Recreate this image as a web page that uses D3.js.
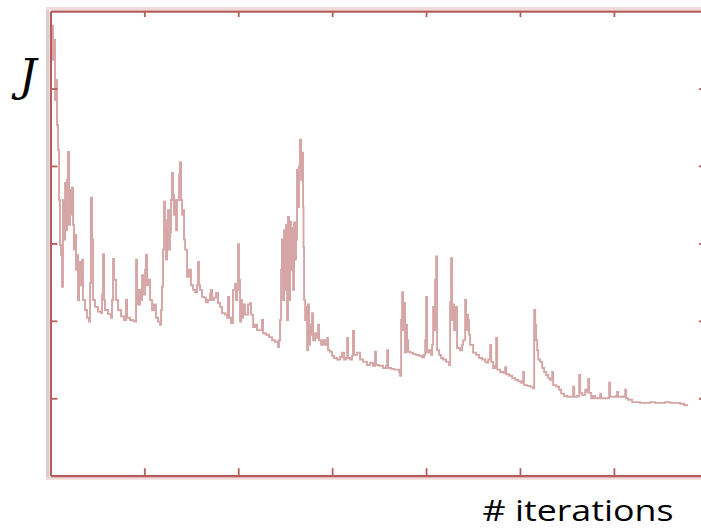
<!DOCTYPE html>
<html>
<head>
<meta charset="utf-8">
<script src="https://cdn.jsdelivr.net/npm/d3@7"></script>
<style>
  html, body { margin: 0; padding: 0; background: #fff; }
  svg { display: block; }
</style>
</head>
<body>
<svg id="chart" width="701" height="529"></svg>
<script>
// Cost J recorded during optimisation (iteration, J)
const iterations = [
  0, 6, 17, 28, 38, 49, 60, 70, 81, 92, 102, 113, 124, 134, 145, 156, 166, 177, 187, 198,
  209, 219, 230, 241, 251, 262, 273, 283, 294, 305, 315, 326, 337, 347, 368, 390, 411, 422, 432, 443,
  454, 475, 507, 539, 550, 560, 571, 581, 613, 645, 656, 667, 677, 699, 720, 752, 784, 805, 816, 848,
  880, 901, 912, 922, 933, 954, 965, 976, 986, 1008, 1018, 1029, 1039, 1061, 1082, 1103, 1124, 1146, 1167, 1178,
  1188, 1199, 1210, 1220, 1231, 1242, 1252, 1263, 1274, 1284, 1295, 1306, 1316, 1327, 1338, 1348, 1370, 1380, 1391, 1402,
  1412, 1423, 1434, 1455, 1476, 1497, 1519, 1540, 1561, 1572, 1582, 1593, 1614, 1636, 1657, 1678, 1700, 1710, 1721, 1742,
  1764, 1785, 1806, 1827, 1859, 1881, 1891, 1902, 1923, 1944, 1966, 1976, 1987, 1998, 2008, 2019, 2030, 2040, 2051, 2072,
  2104, 2126, 2136, 2158, 2179, 2200, 2232, 2253, 2264, 2296, 2328, 2360, 2392, 2424, 2434, 2445, 2456, 2466, 2477, 2488,
  2498, 2509, 2520, 2530, 2541, 2552, 2562, 2573, 2584, 2594, 2605, 2616, 2626, 2637, 2647, 2658, 2669, 2679, 2690, 2695,
  2701, 2712, 2722, 2733, 2743, 2754, 2765, 2775, 2786, 2797, 2818, 2839, 2850, 2861, 2882, 2903, 2924, 2946, 2956, 2978,
  2999, 3020, 3052, 3084, 3105, 3127, 3148, 3159, 3169, 3190, 3212, 3222, 3233, 3265, 3297, 3329, 3371, 3403, 3435, 3457,
  3467, 3499, 3542, 3574, 3585, 3595, 3627, 3659, 3691, 3713, 3723, 3734, 3745, 3755, 3766, 3776, 3787, 3798, 3808, 3830,
  3862, 3894, 3926, 3958, 3979, 3990, 4000, 4011, 4032, 4054, 4064, 4075, 4086, 4096, 4107, 4117, 4139, 4160, 4181, 4213,
  4245, 4256, 4266, 4277, 4288, 4298, 4309, 4330, 4362, 4384, 4394, 4416, 4426, 4437, 4447, 4458, 4469, 4501, 4533, 4565,
  4597, 4629, 4650, 4661, 4682, 4693, 4714, 4735, 4746, 4757, 4789, 4821, 4842, 4853, 4885, 4917, 4949, 4981, 5013, 5034,
  5044, 5076, 5108, 5140, 5151, 5162, 5172, 5183, 5194, 5215, 5236, 5257, 5279, 5300, 5321, 5343, 5353, 5385, 5417, 5439,
  5470, 5502, 5534, 5566, 5577, 5609, 5630, 5641, 5662, 5694, 5715, 5726, 5736, 5758, 5779, 5800, 5832, 5854, 5864, 5896,
  5928, 5949, 5960, 5992, 6024, 6034, 6045, 6077, 6109, 6120, 6130, 6152, 6194, 6237, 6279, 6332, 6386, 6439, 6492, 6545,
  6599, 6652, 6705, 6748, 6790
];

const costJ = [
  5.86, 5.63, 5.81, 5.37, 5.63, 4.85, 5.11, 4.53, 4.21, 3.56, 2.98, 2.85, 2.44, 3.56, 3.05, 3.78, 3.17, 3.82, 4.18, 3.24,
  3.69, 3.37, 3.72, 3.24, 2.92, 3.11, 2.66, 2.85, 2.27, 2.66, 2.76, 2.46, 2.79, 2.27, 2.14, 2.04, 1.99, 2.49, 3.59, 3.05,
  2.27, 2.18, 2.12, 2.10, 2.34, 2.86, 2.27, 2.14, 2.09, 2.04, 2.27, 2.80, 2.53, 2.27, 2.14, 2.06, 2.01, 2.27, 2.04, 2.01,
  2.00, 1.99, 2.79, 2.40, 2.21, 2.40, 2.27, 2.59, 2.34, 2.66, 2.85, 2.46, 2.53, 2.27, 2.14, 2.21, 2.04, 1.99, 1.95, 2.14,
  2.44, 2.92, 3.54, 3.17, 2.79, 3.30, 3.43, 2.92, 3.14, 3.56, 3.91, 3.63, 3.37, 3.56, 3.17, 3.56, 3.89, 4.05, 3.56, 3.37,
  3.43, 3.05, 2.92, 2.57, 2.66, 2.46, 2.40, 2.37, 2.46, 2.76, 2.46, 2.40, 2.31, 2.30, 2.24, 2.27, 2.35, 2.40, 2.27, 2.30,
  2.36, 2.23, 2.18, 2.10, 2.08, 2.04, 2.31, 2.04, 1.97, 2.40, 2.48, 2.27, 2.40, 2.99, 2.53, 1.99, 2.27, 2.04, 2.21, 2.08,
  2.21, 2.23, 2.08, 1.92, 1.95, 1.88, 1.88, 2.01, 1.84, 1.82, 1.79, 1.75, 1.73, 1.66, 1.75, 2.01, 2.66, 3.05, 2.27, 3.17,
  2.40, 3.24, 2.01, 3.34, 2.27, 3.28, 2.66, 3.20, 2.40, 3.27, 2.79, 3.05, 3.95, 3.47, 3.99, 4.34, 3.82, 4.17, 3.47, 2.95,
  2.27, 2.01, 2.18, 1.62, 2.21, 1.69, 1.95, 1.82, 2.10, 1.75, 1.84, 1.78, 1.95, 1.75, 1.69, 1.75, 1.69, 1.78, 1.62, 1.60,
  1.55, 1.52, 1.50, 1.53, 1.59, 1.50, 1.52, 1.78, 1.52, 1.50, 1.55, 1.87, 1.56, 1.59, 1.50, 1.47, 1.43, 1.46, 1.42, 1.60,
  1.43, 1.42, 1.39, 1.42, 1.62, 1.39, 1.38, 1.37, 1.37, 1.34, 1.29, 2.01, 2.37, 1.88, 2.23, 1.59, 1.95, 1.75, 1.60, 1.59,
  1.57, 1.56, 1.55, 1.53, 1.56, 1.75, 2.31, 1.59, 1.62, 1.56, 1.69, 2.18, 1.88, 2.53, 2.83, 1.62, 1.56, 1.52, 1.50, 1.47,
  1.43, 2.24, 2.81, 2.01, 2.21, 1.88, 2.18, 1.65, 1.62, 1.69, 1.75, 2.27, 1.88, 2.08, 2.01, 1.82, 1.69, 1.59, 1.56, 1.52,
  1.50, 1.47, 1.46, 1.50, 1.69, 1.47, 1.39, 1.42, 1.78, 1.37, 1.34, 1.33, 1.40, 1.31, 1.29, 1.26, 1.24, 1.22, 1.20, 1.34,
  1.17, 1.16, 1.15, 1.13, 2.14, 1.95, 1.75, 1.62, 1.50, 1.47, 1.39, 1.34, 1.30, 1.26, 1.24, 1.34, 1.17, 1.15, 1.11, 1.06,
  1.03, 1.02, 1.02, 1.15, 1.02, 1.03, 1.30, 1.07, 1.04, 1.11, 1.08, 1.25, 1.07, 1.00, 1.03, 1.00, 1.00, 1.06, 1.00, 1.00,
  1.00, 1.20, 1.02, 1.02, 1.03, 1.08, 1.02, 1.02, 1.03, 1.11, 1.00, 0.98, 0.95, 0.95, 0.94, 0.94, 0.95, 0.94, 0.94, 0.95,
  0.94, 0.94, 0.93, 0.91, 0.91
];

// Unlabelled tick positions
const xTicks = [1000, 2000, 3000, 4000, 5000, 6000];
const yTicks = [1, 2, 3, 4, 5];

const series = iterations.map((it, i) => ({ it, j: costJ[i] }));

const svg = d3.select("#chart");
const frameColor = "#b65c5c";
const lineColor = "#d6a5a5";

const x = d3.scaleLinear().domain([0, 6970]).range([50.4, 705]);
const y = d3.scaleLinear().domain([0, 6]).range([475.7, 11.1]);

// soft halo around the frame
const halo = svg.append("g").attr("fill", "none");
halo.append("line").attr("x1", 47.5).attr("x2", 47.5).attr("y1", 7).attr("y2", 480)
  .attr("stroke", "#dacdcd").attr("stroke-width", 3);
halo.append("line").attr("x1", 46).attr("x2", 701).attr("y1", 8.6).attr("y2", 8.6)
  .attr("stroke", "#f0dada").attr("stroke-width", 3);
halo.append("line").attr("x1", 46).attr("x2", 701).attr("y1", 478.3).attr("y2", 478.3)
  .attr("stroke", "#f0dada").attr("stroke-width", 3);

// cost curve, drawn as a staircase trace
svg.append("path")
  .datum(series)
  .attr("fill", "none")
  .attr("stroke", lineColor)
  .attr("stroke-width", 1.9)
  .attr("d", d3.line().curve(d3.curveStepAfter).x(d => x(d.it)).y(d => y(d.j)));

function styleAxis(g) {
  g.select(".domain").attr("stroke", frameColor).attr("stroke-width", 2.2);
  g.selectAll(".tick line").attr("stroke", frameColor).attr("stroke-width", 1.8);
  g.selectAll(".tick text").remove();
}

svg.append("g").attr("transform", `translate(0,${y(0)})`)
  .call(d3.axisBottom(x).tickValues(xTicks).tickSize(-7.5).tickSizeOuter(0).tickFormat(""))
  .call(styleAxis);
svg.append("g").attr("transform", `translate(0,${y(6)})`)
  .call(d3.axisTop(x).tickValues(xTicks).tickSize(-6).tickSizeOuter(0).tickFormat(""))
  .call(styleAxis);
svg.append("g").attr("transform", `translate(${x(0)},0)`)
  .call(d3.axisLeft(y).tickValues(yTicks).tickSize(-7).tickSizeOuter(0).tickFormat(""))
  .call(styleAxis);
svg.append("g").attr("transform", `translate(${x(6970)},0)`)
  .call(d3.axisRight(y).tickValues(yTicks).tickSize(-6).tickSizeOuter(0).tickFormat(""))
  .call(styleAxis);

// axis titles
svg.append("text")
  .attr("x", 19).attr("y", 91)
  .attr("font-family", "'DejaVu Serif', serif")
  .attr("font-style", "italic")
  .attr("font-size", 44)
  .attr("fill", "#000")
  .text("J");

svg.append("text")
  .attr("x", 482.5).attr("y", 521)
  .attr("font-family", "'Open Sans', sans-serif")
  .attr("font-size", 29)
  .attr("fill", "#000")
  .attr("style", "font-variant-ligatures: none")
  .attr("textLength", 191)
  .attr("lengthAdjust", "spacingAndGlyphs")
  .text("# iterations");
</script>
</body>
</html>
